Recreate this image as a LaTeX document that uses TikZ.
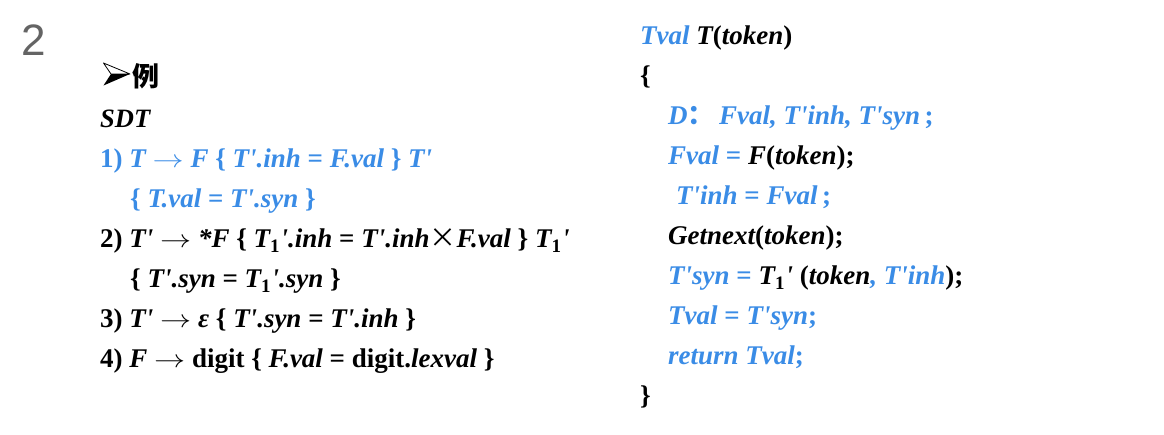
\documentclass[tikz,border=0pt]{standalone}
\usepackage{graphicx}
\usepackage{fontspec}
\newfontfamily\tms{Liberation Serif}
\newfontfamily\ars{Liberation Sans}
\newfontfamily\cjk{Noto Sans CJK SC}
\definecolor{sdtblue}{RGB}{58,140,230}
\definecolor{numgray}{RGB}{100,100,100}
\newcommand\B[1]{\textcolor{sdtblue}{#1}}
\newcommand\ar{\scalebox{1.25}[1]{\ensuremath{\rightarrow}}}
\newcommand\one{\raisebox{-5pt}{\fontsize{19}{19}\selectfont\upshape 1}\kern1pt}
\tikzset{
  ln/.style={anchor=base west, inner sep=0pt, font=\tms\fontsize{27}{30}\selectfont\bfseries\itshape},
}
\begin{document}
\begin{tikzpicture}[x=1pt,y=-1pt]
\useasboundingbox[fill=white] (0,0) rectangle (1164,434);
\node[anchor=base west, inner sep=0pt, text=numgray, font=\ars\fontsize{44}{48}\selectfont] (num) at (21,55) {2};
% bullet arrowhead
\draw[line width=0.8pt, line join=round] (103.5,63) -- (130,74) -- (111,74) -- cycle;
\fill[black] (111,74) -- (130,74) -- (103.5,85.5) -- cycle;
\node[anchor=base west, inner sep=0pt, font=\cjk\bfseries\fontsize{27}{30}\selectfont] (ex) at (132,86) {例};
\node[ln, font=\tms\fontsize{26.5}{30}\selectfont\bfseries\itshape] (sdt) at (100,127) {SDT};
\node[ln, text=sdtblue] (l1) at (100,167) {{\upshape 1)} T \ar{} F {\upshape\{} T'.inh {\upshape =} F.val {\upshape\}} T'};
\node[ln, text=sdtblue] (l1b) at (130,207) {{\upshape\{} T.val {\upshape =} T'.syn {\upshape\}}};
\node[ln] (l2) at (100,247) {{\upshape 2)} T' \ar{} *F {\upshape\{} T\one'.inh {\upshape =} T'.inh{\cjk\mdseries ×}F.val {\upshape\}} T\one'};
\node[ln] (l2b) at (130,287) {{\upshape\{} T'.syn {\upshape =} T\one'.syn {\upshape\}}};
\node[ln] (l3) at (100,327) {{\upshape 3)} T' \ar{} ε {\upshape\{} T'.syn {\upshape =} T'.inh {\upshape\}}};
\node[ln] (l4) at (100,367) {{\upshape 4)} F \ar{} {\upshape digit \{} F.val {\upshape = digit.}lexval {\upshape\}}};
\node[ln] (r1) at (640,44) {\B{Tval} T{\upshape(}token{\upshape)}};
\node[ln] (r2) at (640,84) {{\upshape\{}};
\node[ln, text=sdtblue] (r3) at (668,124) {D{\cjk\upshape ：}\,Fval, T'inh, T'syn{\upshape\,;}};
\node[ln] (r4) at (668,164) {\B{Fval {\upshape =}} F{\upshape(}token{\upshape);}};
\node[ln, text=sdtblue] (r5) at (676,204) {T'inh {\upshape =} Fval{\upshape\,;}};
\node[ln] (r6) at (668,244) {Getnext{\upshape(}token{\upshape);}};
\node[ln] (r7) at (668,284) {\B{T'syn {\upshape =}} T\one' {\upshape(}token\B{, T'inh}{\upshape);}};
\node[ln, text=sdtblue] (r8) at (668,324) {Tval {\upshape =} T'syn{\upshape ;}};
\node[ln, text=sdtblue] (r9) at (668,364) {return Tval{\upshape ;}};
\node[ln] (r10) at (640,404) {{\upshape\}}};
\end{tikzpicture}
\end{document}
